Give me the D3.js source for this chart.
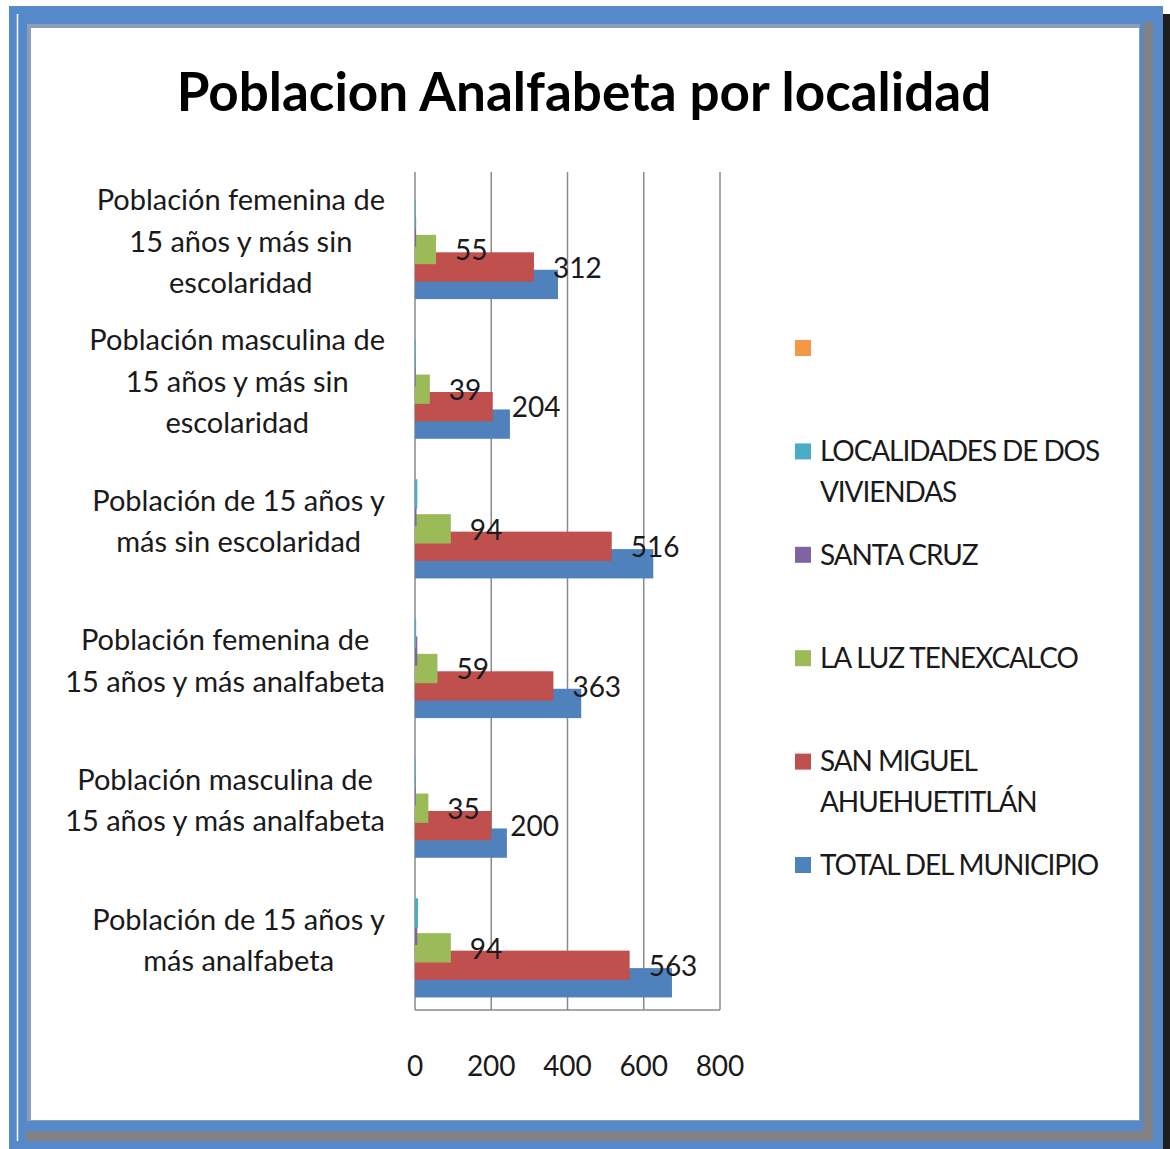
<!DOCTYPE html>
<html>
<head>
<meta charset="utf-8">
<script src="https://cdn.jsdelivr.net/npm/d3@7"></script>
<style>
  body { margin: 0; background: #ffffff; }
  svg text { font-family: Lato, "Open Sans", sans-serif; fill: #1a1a1a; }
</style>
</head>
<body>
<div id="grafiek"></div>
<script>

// categorias (de arriba hacia abajo)
var categorias = [
  ["Población femenina de", "15 años y más sin", "escolaridad"],
  ["Población masculina de", "15 años y más sin", "escolaridad"],
  ["Población de 15 años y", "más sin escolaridad"],
  ["Población femenina de", "15 años y más analfabeta"],
  ["Población masculina de", "15 años y más analfabeta"],
  ["Población de 15 años y", "más analfabeta"]
];

// series en el orden de Excel (la primera queda abajo)
var series = ["TOTAL DEL MUNICIPIO", "SAN MIGUEL AHUEHUETITLÁN", "LA LUZ TENEXCALCO",
              "SANTA CRUZ", "LOCALIDADES DE DOS VIVIENDAS", ""];
var colores = ["#4F81BD", "#C0504D", "#9BBB59", "#8064A2", "#4BACC6", "#F79646"];

var totalMunicipio = [375, 249, 625, 436, 241, 674];
var sanMiguel = [312, 204, 516, 363, 200, 563];
var laLuz = [55, 39, 94, 59, 35, 94];
var santaCruz = [3, 2, 4, 6, 2, 6];
var dosViviendas = [2, 2, 6, 3, 2, 8];
var vacio = [0, 0, 0, 0, 0, 0];

var valores = [totalMunicipio, sanMiguel, laLuz, santaCruz, dosViviendas, vacio];

// solo estas series llevan etiqueta
var conEtiqueta = [1, 2];

var ticks = [0, 200, 400, 600, 800];

// etiquetas de la leyenda, una linea por elemento
var leyendaTextos = [
  [],
  ["LOCALIDADES DE DOS", "VIVIENDAS"],
  ["SANTA CRUZ"],
  ["LA LUZ TENEXCALCO"],
  ["SAN MIGUEL", "AHUEHUETITLÁN"],
  ["TOTAL DEL MUNICIPIO"]
];

var ancho = 1170, alto = 1149;

var svg = d3.select("#grafiek")
            .append("svg")
            .attr("width", ancho)
            .attr("height", alto);

// marco azul con sombra
svg.append("rect").attr("x", 9).attr("y", 6).attr("width", 1154).attr("height", 1143).attr("fill", "#5589C9");
svg.append("rect").attr("x", 1163).attr("y", 14).attr("width", 7).attr("height", 1135).attr("fill", "#1e1e1e");
svg.append("rect").attr("x", 26).attr("y", 22).attr("width", 1127).attr("height", 1119).attr("fill", "#7f8184");
svg.append("rect").attr("x", 17).attr("y", 14).attr("width", 1126).attr("height", 1117).attr("fill", "#5589C9");
svg.append("line").attr("x1", 17.5).attr("x2", 17.5).attr("y1", 14).attr("y2", 1141)
   .attr("stroke", "#ffffff").attr("stroke-width", 1.5);
svg.append("rect").attr("x", 27).attr("y", 24).attr("width", 1113).attr("height", 1097).attr("fill", "#8c9db6");
svg.append("rect").attr("x", 31).attr("y", 28).attr("width", 1108).attr("height", 1092).attr("fill", "#ffffff");

// titulo
svg.append("text")
   .attr("x", 584)
   .attr("y", 111)
   .attr("text-anchor", "middle")
   .style("font-weight", "bold")
   .style("font-size", "53px")
   .style("fill", "#000")
   .text("Poblacion Analfabeta por localidad");

// escalas
var x = d3.scaleLinear().domain([0, 800]).range([415, 720]);
var y = d3.scaleBand().domain(d3.range(categorias.length)).range([172, 1010]);

// desplazamiento de cada serie dentro de la banda (barras superpuestas)
var paso = y.bandwidth() * 0.125;
var altoBarra = y.bandwidth() * 0.21;
var offset = d3.scaleLinear().domain([0, series.length - 1])
               .range([y.bandwidth() * 0.70, y.bandwidth() * 0.70 - paso * (series.length - 1)]);

// lineas de cuadricula
svg.append("g")
   .selectAll("line")
   .data(ticks)
   .enter()
   .append("line")
   .attr("x1", function(d) { return x(d); })
   .attr("x2", function(d) { return x(d); })
   .attr("y1", 172)
   .attr("y2", 1010)
   .attr("stroke", "#8a8a8a")
   .attr("stroke-width", 1.5);

// eje inferior
svg.append("line")
   .attr("x1", x(0)).attr("x2", x(800))
   .attr("y1", 1010).attr("y2", 1010)
   .attr("stroke", "#8a8a8a").attr("stroke-width", 1.5);

svg.append("g")
   .selectAll("text")
   .data(ticks)
   .enter()
   .append("text")
   .attr("x", function(d) { return x(d); })
   .attr("y", 1066)
   .attr("dy", "0.35em")
   .attr("text-anchor", "middle")
   .style("font-size", "28px")
   .text(function(d) { return d; });

// barras, la serie siguiente se dibuja encima
valores.forEach(function(serie, s) {
  svg.append("g")
     .selectAll("rect")
     .data(serie)
     .enter()
     .append("rect")
     .attr("x", x(0))
     .attr("y", function(d, i) { return y(i) + offset(s); })
     .attr("width", function(d) { return x(d) - x(0); })
     .attr("height", altoBarra)
     .attr("fill", colores[s]);
});

// etiquetas de datos
conEtiqueta.forEach(function(s) {
  svg.append("g")
     .selectAll("text")
     .data(valores[s])
     .enter()
     .append("text")
     .attr("x", function(d) { return x(d) + 19; })
     .attr("y", function(d, i) { return y(i) + offset(s) + altoBarra / 2 + 1; })
     .attr("dy", "0.35em")
     .style("font-size", "28px")
     .text(function(d) { return d; });
});

// etiquetas de categoria, bloque alineado a la derecha y lineas centradas
var altoLinea = 41.5;
categorias.forEach(function(lineas, i) {
  var g = svg.append("g");
  var textos = g.selectAll("text")
                .data(lineas)
                .enter()
                .append("text")
                .attr("y", function(d, j) {
                  return y(i) + y.bandwidth() / 2 + (j - (lineas.length - 1) / 2) * altoLinea; })
                .attr("dy", "0.35em")
                .attr("text-anchor", "middle")
                .style("font-size", "29px")
                .text(function(d) { return d; });
  var maxAncho = d3.max(textos.nodes(), function(n) { return n.getComputedTextLength(); });
  textos.attr("x", 385 - maxAncho / 2);
});

// leyenda (orden inverso)
var leyenda = svg.append("g");
var orden = d3.range(series.length).reverse();
var yLeyenda = d3.scaleLinear().domain([0, series.length - 1]).range([348, 865]);

orden.forEach(function(s, k) {
  leyenda.append("rect")
         .attr("x", 795)
         .attr("y", yLeyenda(k) - 8)
         .attr("width", 16)
         .attr("height", 16)
         .attr("fill", colores[s]);
  leyenda.selectAll(null)
         .data(leyendaTextos[k])
         .enter()
         .append("text")
         .attr("x", 820)
         .attr("y", function(d, j) { return yLeyenda(k) + j * 41; })
         .attr("dy", "0.35em")
         .style("font-size", "28px")
         .style("letter-spacing", "-1.1px")
         .text(function(d) { return d; });
});

</script>
</body>
</html>
